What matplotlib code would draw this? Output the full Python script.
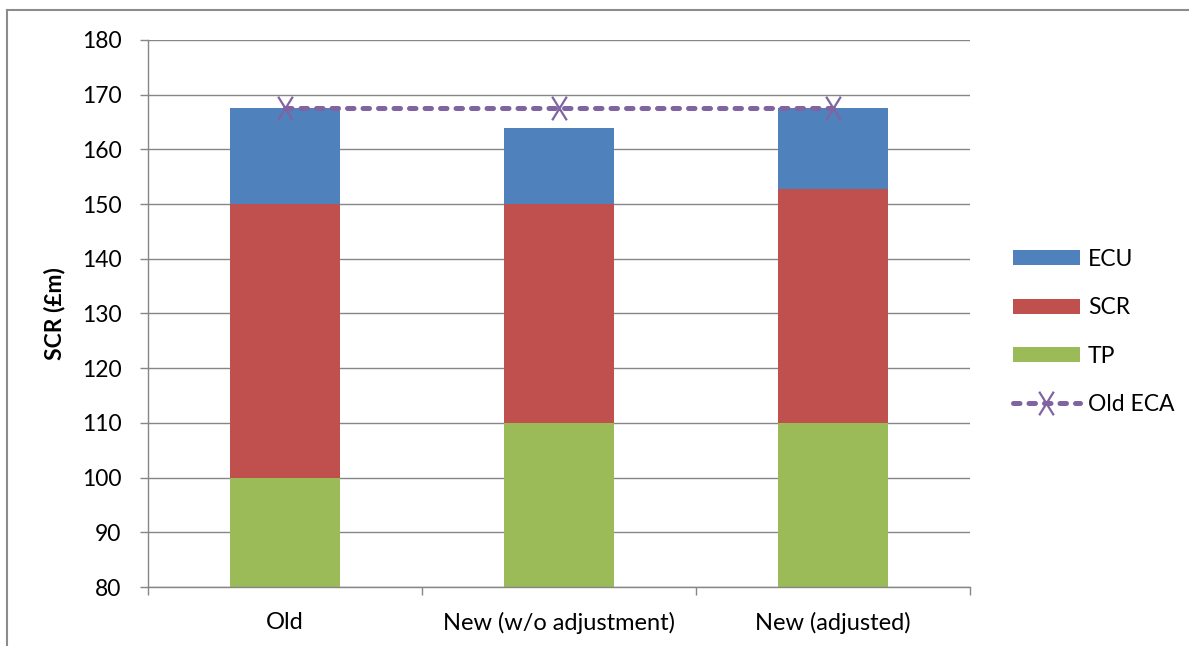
import matplotlib
matplotlib.use("Agg")
import matplotlib.pyplot as plt
from matplotlib.lines import Line2D
from matplotlib.path import Path
import numpy as np

categories = ["Old", "New (w/o adjustment)", "New (adjusted)"]
tp = [100, 110, 110]
scr = [50, 40, 42.7]
ecu = [17.5, 14, 14.8]
old_eca = [167.5, 167.5, 167.5]

plt.rcParams['font.family'] = ['Lato', 'DejaVu Sans']

fig = plt.figure(figsize=(11.89, 6.46), dpi=100)
ax = fig.add_axes([148/1189, 1-587/646, (970-148)/1189, (587-40)/646])

# frame around the chart area (open on right and bottom)
fig.add_artist(Line2D([7/1189, 7/1189], [1-10/646, 0], color='#8c8c8c', lw=1.5,
                      transform=fig.transFigure))
fig.add_artist(Line2D([7/1189, 1], [1-10/646, 1-10/646], color='#8c8c8c', lw=1.5,
                      transform=fig.transFigure))

x = np.arange(len(categories))
w = 0.4
c_tp, c_scr, c_ecu, c_eca = '#9BBB59', '#C0504D', '#4F81BD', '#8064A2'

# tall, narrow cross marker
tall_x = Path([(-0.62, -1), (0.62, 1), (-0.62, 1), (0.62, -1)],
              [Path.MOVETO, Path.LINETO, Path.MOVETO, Path.LINETO])

b_tp = ax.bar(x, tp, w, color=c_tp, zorder=2, label='TP')
b_scr = ax.bar(x, scr, w, bottom=tp, color=c_scr, zorder=2, label='SCR')
b_ecu = ax.bar(x, ecu, w, bottom=np.array(tp) + np.array(scr), color=c_ecu,
               zorder=2, label='ECU')
eca_line, = ax.plot(x, old_eca, color=c_eca, lw=3.6, marker=tall_x, markersize=17,
                    markeredgewidth=1.6, dashes=(1.3, 1.8),
                    dash_capstyle='round', zorder=3, label='Old ECA')

ax.set_xlim(-0.5, 2.5)
ax.set_ylim(80, 180)
ax.set_yticks(np.arange(80, 181, 10))
ax.set_xticks(x)
ax.set_xticklabels(categories)
ax.set_xticks([-0.5, 0.5, 1.5, 2.5], minor=True)
ax.tick_params(axis='x', which='major', length=0, pad=18, labelsize=17)
ax.tick_params(axis='x', which='minor', length=6, color='#868686', width=1)
ax.tick_params(axis='y', length=6, color='#868686', width=1, labelsize=16.5, pad=13)
ax.yaxis.grid(True, color='#868686', lw=1, zorder=0)
ax.set_axisbelow(True)
for s in ['top', 'right']:
    ax.spines[s].set_visible(False)
for s in ['left', 'bottom']:
    ax.spines[s].set_color('#868686')
    ax.spines[s].set_linewidth(1)

ax.set_ylabel('SCR (£m)', fontsize=16.5, fontweight='bold', labelpad=12)

handles = [b_ecu, b_scr, b_tp, eca_line]
labels = ['ECU', 'SCR', 'TP', 'Old ECA']
fig.legend(handles, labels, loc='center left', bbox_to_anchor=(992/1189, 1-332/646),
           frameon=False, fontsize=16.5, handlelength=2.95, handleheight=0.64,
           labelspacing=1.2, handletextpad=0.34)

fig.savefig('out.png', dpi=100, facecolor='white')
